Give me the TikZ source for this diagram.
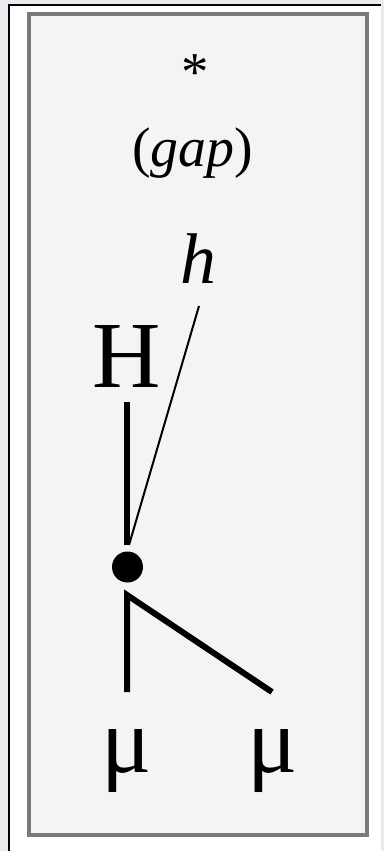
\documentclass[tikz,border=0pt]{standalone}
\usepackage{fontspec}
\setmainfont{Liberation Serif}
\definecolor{pagegrey}{HTML}{E9EBEE}
\definecolor{boxfill}{HTML}{F4F4F4}
\definecolor{boxline}{HTML}{7A7A7A}
\begin{document}
\begin{tikzpicture}[x=1bp,y=-1bp,
  lbl/.style={inner sep=0pt,anchor=base,text=black},
  thickline/.style={line width=6bp,black},
  thinline/.style={line width=2bp,black}]
\useasboundingbox (0,0) rectangle (384,851);
\fill[pagegrey] (0,0) rectangle (384,851);
\fill[white] (9,5) rectangle (381,852);
\draw[line width=2bp,black] (9,852) -- (9,5) -- (381,5);
\draw[boxline,line width=4bp,fill=boxfill] (28.5,13.5) rectangle (366.5,834.5);
% texts
\node[lbl,font=\fontsize{55}{55}\selectfont] (star) at (195,90) {*};
\node[lbl,font=\fontsize{56}{56}\selectfont] (gap) at (192.5,166) {(\textit{gap})};
\node[lbl,font=\fontsize{72}{72}\selectfont\itshape] (h) at (198.5,283) {h};
\node[lbl,font=\fontsize{95}{95}\selectfont] (H) at (126.5,387) {H};
\node[lbl,font=\fontsize{94}{94}\selectfont] (mu1) at (127,772) {μ};
\node[lbl,font=\fontsize{94}{94}\selectfont] (mu2) at (273,772) {μ};
% dot and connectors
\node[circle,fill=black,minimum size=31bp,inner sep=0pt] (dot) at (127.5,567) {};
\coordinate (hend) at (199,306);
\coordinate (Hend) at (127,402);
\coordinate (join) at (127,545);
\coordinate (split) at (127,595);
\coordinate (m1end) at (127,692);
\coordinate (m2end) at (272,692);
\draw[thickline] (Hend) -- (join);
\draw[thinline] (hend) -- (129,545);
\draw[thickline,line join=miter] (m1end) -- (split) -- (m2end);
\end{tikzpicture}
\end{document}
